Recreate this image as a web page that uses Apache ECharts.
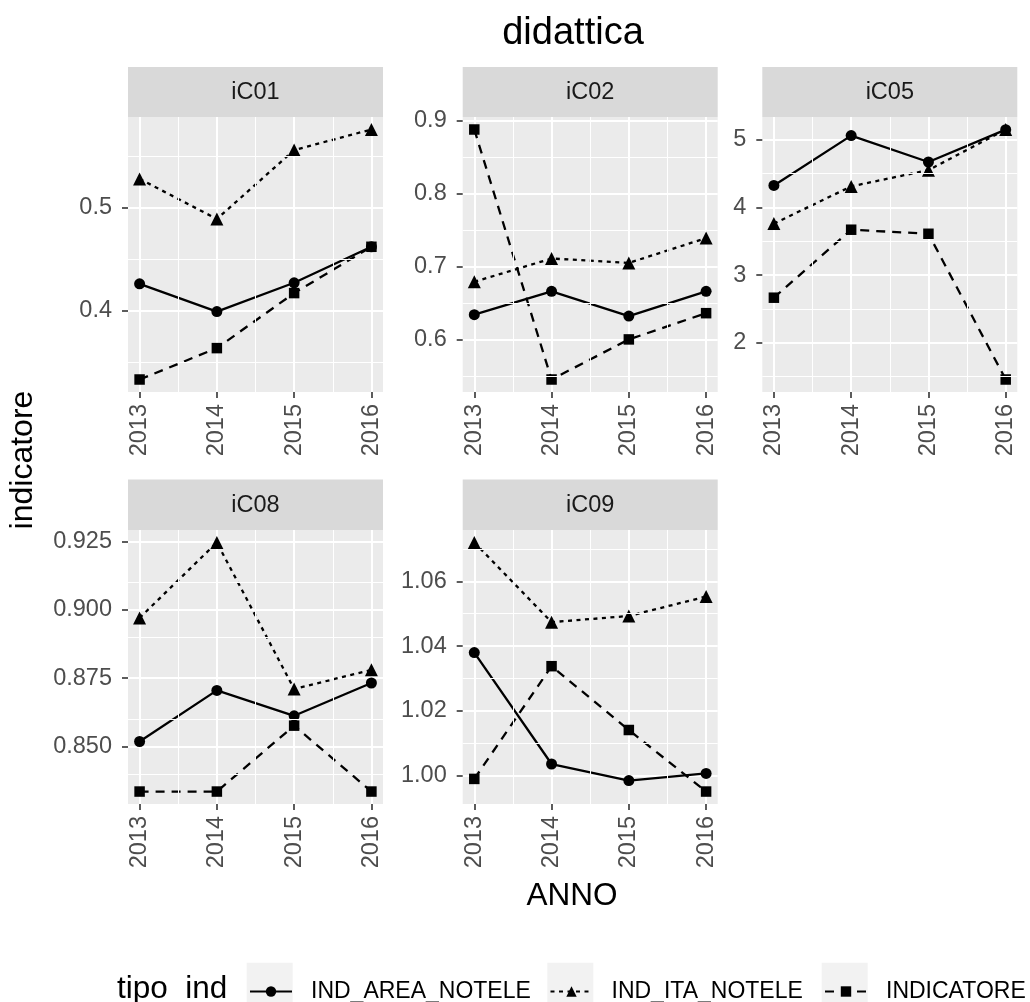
<!DOCTYPE html>
<html>
<head>
<meta charset="utf-8">
<script src="https://cdn.jsdelivr.net/npm/echarts@6/dist/echarts.min.js"></script>
<style>
  html, body { margin: 0; padding: 0; background: #ffffff; }
  #chart { width: 1030px; height: 1002px; }
</style>
</head>
<body>
<div id="chart"></div>
<script>
// ---------- data ----------
const years = [2013, 2014, 2015, 2016];
const yearLabels = ['2013', '2014', '2015', '2016'];
const yearMinor = [2013.5, 2014.5, 2015.5];
const panelNames = ['iC01', 'iC02', 'iC05', 'iC08', 'iC09'];
const seriesNames = ['IND_AREA_NOTELE', 'IND_ITA_NOTELE', 'INDICATORE'];

const iC01_area = [0.426, 0.399, 0.427, 0.462];
const iC01_ita  = [0.528, 0.489, 0.556, 0.576];
const iC01_ind  = [0.333, 0.3635, 0.417, 0.462];

const iC02_area = [0.634, 0.666, 0.632, 0.666];
const iC02_ita  = [0.679, 0.711, 0.705, 0.739];
const iC02_ind  = [0.888, 0.545, 0.600, 0.636];

const iC05_area = [4.324, 5.06, 4.67, 5.148];
const iC05_ita  = [3.76, 4.31, 4.55, 5.15];
const iC05_ind  = [2.666, 3.67, 3.61, 1.458];

const iC08_area = [0.8518, 0.8705, 0.8612, 0.8732];
const iC08_ita  = [0.897, 0.9246, 0.871, 0.878];
const iC08_ind  = [0.8335, 0.8335, 0.8576, 0.8335];

const iC09_area = [1.038, 1.0036, 0.9985, 1.0007];
const iC09_ita  = [1.072, 1.0474, 1.0493, 1.0553];
const iC09_ind  = [0.999, 1.0338, 1.0141, 0.9951];

const iC01_breaks = [0.4, 0.5];
const iC01_labels = ['0.4', '0.5'];
const iC01_minor  = [0.35, 0.45, 0.55];
const iC02_breaks = [0.6, 0.7, 0.8, 0.9];
const iC02_labels = ['0.6', '0.7', '0.8', '0.9'];
const iC02_minor  = [0.55, 0.65, 0.75, 0.85];
const iC05_breaks = [2, 3, 4, 5];
const iC05_labels = ['2', '3', '4', '5'];
const iC05_minor  = [1.5, 2.5, 3.5, 4.5];
const iC08_breaks = [0.85, 0.875, 0.9, 0.925];
const iC08_labels = ['0.850', '0.875', '0.900', '0.925'];
const iC08_minor  = [0.8375, 0.8625, 0.8875, 0.9125];
const iC09_breaks = [1.00, 1.02, 1.04, 1.06];
const iC09_labels = ['1.00', '1.02', '1.04', '1.06'];
const iC09_minor  = [1.01, 1.03, 1.05, 1.07];

// ---------- assembly ----------
const panelSeries = [
  [iC01_area, iC01_ita, iC01_ind],
  [iC02_area, iC02_ita, iC02_ind],
  [iC05_area, iC05_ita, iC05_ind],
  [iC08_area, iC08_ita, iC08_ind],
  [iC09_area, iC09_ita, iC09_ind]
];
const panelBreaks = [iC01_breaks, iC02_breaks, iC05_breaks, iC08_breaks, iC09_breaks];
const panelLabels = [iC01_labels, iC02_labels, iC05_labels, iC08_labels, iC09_labels];
const panelMinor  = [iC01_minor, iC02_minor, iC05_minor, iC08_minor, iC09_minor];

// layout (pixels)
const FONT = '"Liberation Sans", Arial, Helvetica, sans-serif';
const SMALL = 23.5;
const colX = [128, 462.7, 762.3];
const panelW = 255;
const rowTop = [117, 530];
const rowH = [275, 274];
const stripTop = [67, 479.5];
const stripH = [50, 50.5];
const panelPos = [[0, 0], [0, 1], [0, 2], [1, 0], [1, 1]];

const lineStyles = [
  { type: 'solid', symbol: 'circle', size: 11 },
  { type: [4, 4.5], symbol: 'triangle', size: 13 },
  { type: [9, 7], symbol: 'rect', size: 10.5 }
];

const grids = [], xAxes = [], yAxes = [], series = [], graphics = [];

panelPos.forEach(([r, c], p) => {
  const left = colX[c];
  grids.push({
    left: left, top: rowTop[r], width: panelW, height: rowH[r],
    show: true, backgroundColor: '#EBEBEB', borderWidth: 0, containLabel: false
  });
  // ggplot-like expansion of the data range (5% each side)
  const all = panelSeries[p].flat();
  const lo = Math.min(...all), hi = Math.max(...all);
  const pad = (hi - lo) * 0.05;
  const breaks = panelBreaks[p], labels = panelLabels[p];

  xAxes.push({
    type: 'value', gridIndex: p,
    min: years[0] - 0.15, max: years[years.length - 1] + 0.15,
    axisLine: { show: false },
    axisTick: { show: true, length: 6, customValues: years, lineStyle: { color: '#333333', width: 1.6 } },
    axisLabel: {
      show: true, customValues: years, rotate: 90, margin: 12,
      fontSize: SMALL, color: '#4D4D4D', fontFamily: FONT,
      formatter: v => { const i = years.indexOf(Math.round(v)); return i >= 0 ? yearLabels[i] : ''; }
    },
    splitLine: { show: true, lineStyle: { color: '#FFFFFF', width: 2 } },
    minorSplitLine: { show: false }
  });
  yAxes.push({
    type: 'value', gridIndex: p,
    min: lo - pad, max: hi + pad,
    axisLine: { show: false },
    axisTick: { show: true, length: 6, customValues: breaks, lineStyle: { color: '#333333', width: 1.6 } },
    axisLabel: {
      show: true, customValues: breaks, margin: 16,
      fontSize: SMALL, color: '#4D4D4D', fontFamily: FONT,
      formatter: v => { const i = breaks.findIndex(b => Math.abs(b - v) < 1e-9); return i >= 0 ? labels[i] : ''; }
    },
    splitLine: { show: true, lineStyle: { color: '#FFFFFF', width: 2 } }
  });

  // minor grid lines
  series.push({
    type: 'line', xAxisIndex: p, yAxisIndex: p, data: [], z: 1, silent: true,
    animation: false, symbol: 'none',
    markLine: {
      silent: true, animation: false, symbol: ['none', 'none'],
      label: { show: false }, emphasis: { disabled: true },
      lineStyle: { color: '#FFFFFF', width: 1, type: 'solid' },
      data: yearMinor.map(v => ({ xAxis: v })).concat(panelMinor[p].map(v => ({ yAxis: v })))
    }
  });

  panelSeries[p].forEach((vals, k) => {
    const st = lineStyles[k];
    series.push({
      type: 'line', name: seriesNames[k], xAxisIndex: p, yAxisIndex: p,
      data: years.map((y, i) => [y, vals[i]]),
      symbol: st.symbol, symbolSize: st.size, showSymbol: true,
      lineStyle: { color: '#000000', width: 2.3, type: st.type },
      itemStyle: { color: '#000000' },
      emphasis: { disabled: true },
      z: 3, animation: false, silent: true
    });
  });

  // strip
  graphics.push({
    type: 'rect', left: left, top: stripTop[r], z: 0,
    shape: { width: panelW, height: stripH[r] },
    style: { fill: '#D9D9D9' }
  });
  graphics.push({
    type: 'text', x: left + panelW / 2, y: stripTop[r] + stripH[r] / 2 + 1, z: 1,
    style: {
      text: panelNames[p], font: SMALL + 'px ' + FONT, fill: '#1A1A1A',
      textAlign: 'center', textVerticalAlign: 'middle', align: 'center', verticalAlign: 'middle'
    }
  });
});

// titles
graphics.push({
  type: 'text', x: 573, y: 34, z: 1,
  style: { text: 'didattica', font: '38px ' + FONT, fill: '#000000',
    textAlign: 'center', textVerticalAlign: 'middle', align: 'center', verticalAlign: 'middle' }
});
graphics.push({
  type: 'text', x: 572, y: 896, z: 1,
  style: { text: 'ANNO', font: '31.5px ' + FONT, fill: '#000000',
    textAlign: 'center', textVerticalAlign: 'middle', align: 'center', verticalAlign: 'middle' }
});
graphics.push({
  type: 'text', x: 23, y: 460, rotation: Math.PI / 2, z: 1,
  style: { text: 'indicatore', font: '32px ' + FONT, fill: '#000000',
    textAlign: 'center', textVerticalAlign: 'middle', align: 'center', verticalAlign: 'middle' }
});
graphics.push({
  type: 'text', x: 117, y: 989, z: 1,
  style: { text: 'tipo_ind', font: '31.5px ' + FONT, fill: '#000000',
    textAlign: 'left', textVerticalAlign: 'middle', align: 'left', verticalAlign: 'middle' }
});
// legend key backgrounds
[246.7, 547.3, 821.7].forEach(x => {
  graphics.push({
    type: 'rect', left: x, top: 962.7, z: 0,
    shape: { width: 46, height: 46 },
    style: { fill: '#F2F2F2' }
  });
});

const legendLeft = [249, 549.5, 824];
const legends = seriesNames.map((n, k) => ({
  data: [n], left: legendLeft[k], top: 980, orient: 'horizontal',
  padding: 0, itemWidth: 42, itemHeight: 13, selectedMode: false,
  textStyle: { fontSize: 23, color: '#000000', fontFamily: FONT, padding: [0, 0, 0, 14] }
}));

const chart = echarts.init(document.getElementById('chart'), null, { renderer: 'canvas' });
chart.setOption({
  backgroundColor: '#FFFFFF',
  animation: false,
  grid: grids,
  xAxis: xAxes,
  yAxis: yAxes,
  legend: legends,
  graphic: { elements: graphics },
  series: series
});
</script>
</body>
</html>
